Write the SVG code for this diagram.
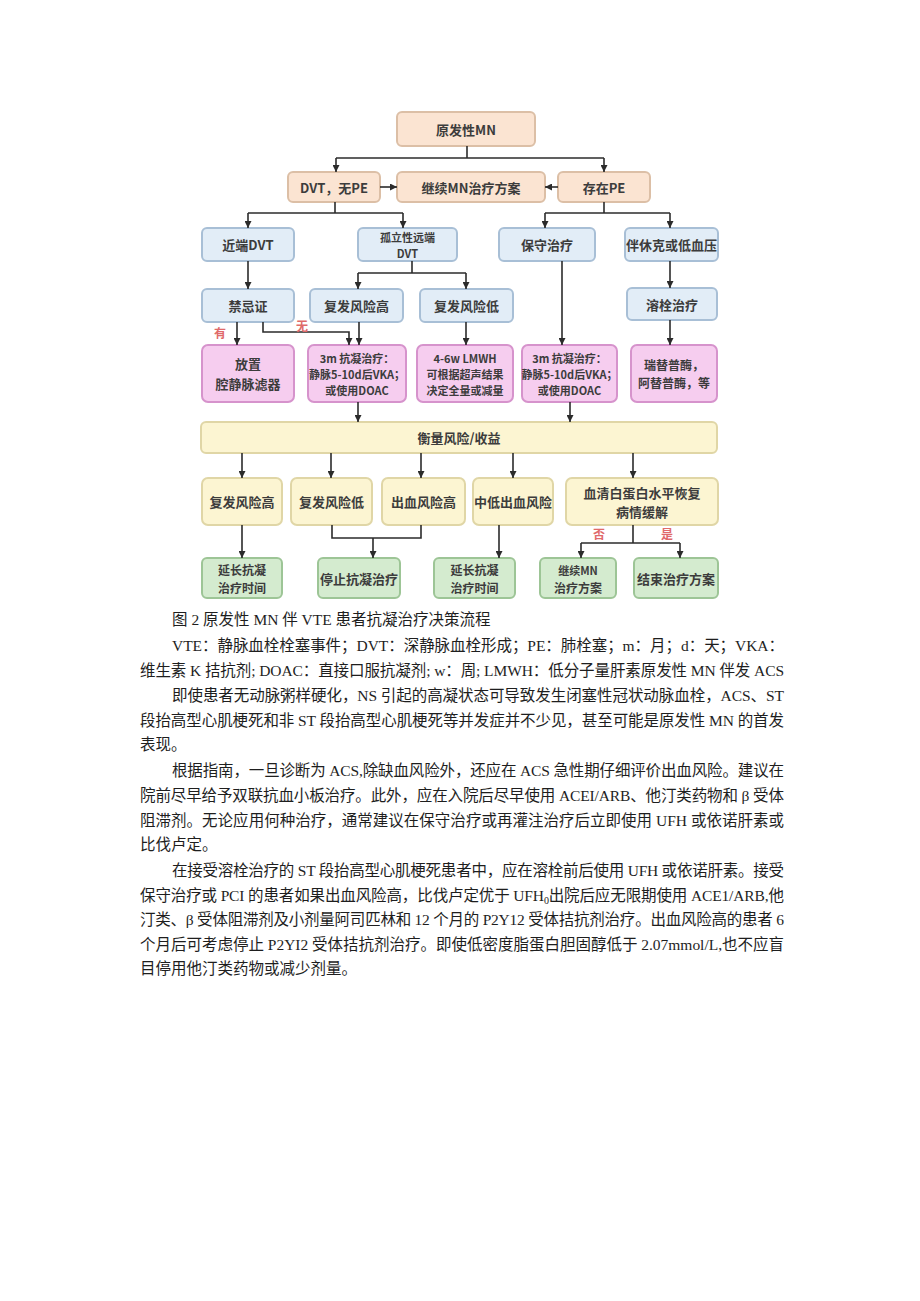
<svg xmlns="http://www.w3.org/2000/svg" width="920" height="1301" viewBox="0 0 920 1301">
<defs>
<marker id="arr" viewBox="0 0 8 8" refX="8" refY="4" markerWidth="7" markerHeight="7" markerUnits="userSpaceOnUse" orient="auto">
<path d="M0,0 L8,4 L0,8 z" fill="#2b2b2b"/>
</marker>
<style>
.peach{fill:#fbe4d2;stroke:#dcbfa6;stroke-width:2}
.blue{fill:#e2edf7;stroke:#a8bfd6;stroke-width:2}
.pink{fill:#f6cdef;stroke:#d693cc;stroke-width:2}
.yel{fill:#fcf5d2;stroke:#e0d6a6;stroke-width:2}
.grn{fill:#d4ebcf;stroke:#9dc596;stroke-width:2}
.t{font-family:"Noto Sans CJK SC","Liberation Sans",sans-serif;font-weight:700;fill:#3c3c3c;font-size:13px;text-anchor:middle;dominant-baseline:central}
.ts{font-size:11px}
.tm{font-size:12px}
.red{font-family:"Noto Sans CJK SC",sans-serif;font-size:12px;fill:#e06a6a;font-weight:700;text-anchor:middle;dominant-baseline:central}
.c path{fill:none;stroke:#2b2b2b;stroke-width:1.6}
.body{font-family:"Liberation Serif","Noto Sans CJK SC",serif;font-size:15.5px;fill:#1e1e1e}
</style>
</defs>
<rect width="920" height="1301" fill="#ffffff"/>

<g id="n-root"><rect class="peach" x="397" y="112" width="138" height="34" rx="5"/><text class="t" x="466" y="129" font-size="17">原发性MN</text></g>
<g id="n-dvt"><rect class="peach" x="288" y="172" width="92" height="30" rx="5"/><text class="t" x="334" y="187">DVT，无PE</text></g>
<g id="n-cont"><rect class="peach" x="397" y="172" width="148" height="30" rx="5"/><text class="t" x="471" y="187">继续MN治疗方案</text></g>
<g id="n-pe"><rect class="peach" x="558" y="172" width="92" height="30" rx="5"/><text class="t" x="604" y="187">存在PE</text></g>

<g id="n-prox"><rect class="blue" x="202" y="228" width="92" height="33" rx="5"/><text class="t" x="248" y="244.5">近端DVT</text></g>
<g id="n-dist"><rect class="blue" x="358" y="228" width="99" height="33" rx="5"/><text class="t ts" x="407.5" y="236.5">孤立性远端</text><text class="t ts" x="407.5" y="252.5">DVT</text></g>
<g id="n-cons"><rect class="blue" x="499" y="228" width="96" height="33" rx="5"/><text class="t" x="547" y="244.5">保守治疗</text></g>
<g id="n-shock"><rect class="blue" x="625" y="228" width="93" height="33" rx="5"/><text class="t" x="671.5" y="244.5" font-size="12.5">伴休克或低血压</text></g>

<g id="n-contra"><rect class="blue" x="202" y="289" width="92" height="33" rx="5"/><text class="t" x="248" y="305.5">禁忌证</text></g>
<g id="n-rh1"><rect class="blue" x="310" y="289" width="93" height="33" rx="5"/><text class="t" x="356.5" y="305.5">复发风险高</text></g>
<g id="n-rl1"><rect class="blue" x="420" y="289" width="93" height="33" rx="5"/><text class="t" x="466.5" y="305.5">复发风险低</text></g>
<g id="n-lys"><rect class="blue" x="627" y="288" width="90" height="32" rx="5"/><text class="t" x="672" y="304">溶栓治疗</text></g>

<g id="n-filter"><rect class="pink" x="202" y="345" width="92" height="57" rx="6"/><text class="t" x="248" y="363">放置</text><text class="t" x="248" y="383">腔静脉滤器</text></g>
<g id="n-ac1"><rect class="pink" x="308" y="345" width="98" height="57" rx="6"/><text class="t ts" x="357" y="357.5">3m 抗凝治疗：</text><text class="t ts" x="357" y="373.5">静脉5-10d后VKA；</text><text class="t ts" x="357" y="389.5">或使用DOAC</text></g>
<g id="n-lmwh"><rect class="pink" x="417" y="345" width="96" height="57" rx="6"/><text class="t ts" x="465" y="357.5">4-6w LMWH</text><text class="t ts" x="465" y="373.5">可根据超声结果</text><text class="t ts" x="465" y="389.5">决定全量或减量</text></g>
<g id="n-ac2"><rect class="pink" x="522" y="345" width="95" height="57" rx="6"/><text class="t ts" x="569.5" y="357.5">3m 抗凝治疗：</text><text class="t ts" x="569.5" y="373.5">静脉5-10d后VKA；</text><text class="t ts" x="569.5" y="389.5">或使用DOAC</text></g>
<g id="n-rete"><rect class="pink" x="631" y="345" width="86" height="57" rx="6"/><text class="t tm" x="674" y="364">瑞替普酶，</text><text class="t tm" x="674" y="382">阿替普酶，等</text></g>

<g id="n-weigh"><rect class="yel" x="201" y="422" width="516" height="31" rx="5"/><text class="t" x="459" y="437.5">衡量风险/收益</text></g>

<g id="n-rh2"><rect class="yel" x="202" y="478" width="80" height="47" rx="6"/><text class="t" x="242" y="501.5">复发风险高</text></g>
<g id="n-rl2"><rect class="yel" x="291" y="478" width="81" height="47" rx="6"/><text class="t" x="331.5" y="501.5">复发风险低</text></g>
<g id="n-bh"><rect class="yel" x="382" y="478" width="83" height="47" rx="6"/><text class="t" x="423.5" y="501.5">出血风险高</text></g>
<g id="n-bl"><rect class="yel" x="473" y="478" width="80" height="47" rx="6"/><text class="t" x="513" y="501.5">中低出血风险</text></g>
<g id="n-alb"><rect class="yel" x="566" y="478" width="152" height="47" rx="6"/><text class="t" x="642" y="492">血清白蛋白水平恢复</text><text class="t" x="642" y="511">病情缓解</text></g>

<g id="n-ext1"><rect class="grn" x="202" y="558" width="80" height="40" rx="5"/><text class="t tm" x="242" y="569.5">延长抗凝</text><text class="t tm" x="242" y="587">治疗时间</text></g>
<g id="n-stop"><rect class="grn" x="318" y="558" width="82" height="40" rx="5"/><text class="t" x="359" y="578">停止抗凝治疗</text></g>
<g id="n-ext2"><rect class="grn" x="434" y="558" width="81" height="40" rx="5"/><text class="t tm" x="474.5" y="569.5">延长抗凝</text><text class="t tm" x="474.5" y="587">治疗时间</text></g>
<g id="n-mn"><rect class="grn" x="540" y="558" width="76" height="40" rx="5"/><text class="t ts" x="578" y="569.5">继续MN</text><text class="t tm" x="578" y="587">治疗方案</text></g>
<g id="n-end"><rect class="grn" x="634" y="558" width="84" height="40" rx="5"/><text class="t" x="676" y="578">结束治疗方案</text></g>

<g id="connectors" class="c">
<path d="M467 146 V158"/><path d="M336 158 H604"/>
<path d="M336 158 V172" marker-end="url(#arr)"/><path d="M604 158 V172" marker-end="url(#arr)"/>
<path d="M380 187 H397" marker-end="url(#arr)"/><path d="M558 187 H545" marker-end="url(#arr)"/>
<path d="M335 202 V213"/><path d="M248 213 H403"/>
<path d="M248 213 V228" marker-end="url(#arr)"/><path d="M403 213 V228" marker-end="url(#arr)"/>
<path d="M604 202 V213"/><path d="M545 213 H670"/>
<path d="M545 213 V228" marker-end="url(#arr)"/><path d="M670 213 V228" marker-end="url(#arr)"/>
<path d="M248 261 V289" marker-end="url(#arr)"/>
<path d="M412 261 V273"/><path d="M358 273 H466"/>
<path d="M358 273 V289" marker-end="url(#arr)"/><path d="M466 273 V289" marker-end="url(#arr)"/>
<path d="M562 261 V345" marker-end="url(#arr)"/>
<path d="M670 261 V288" marker-end="url(#arr)"/><path d="M670 320 V345" marker-end="url(#arr)"/>
<path d="M237 322 V345" marker-end="url(#arr)"/>
<path d="M263 322 V332 H349 V345" marker-end="url(#arr)"/>
<path d="M359 322 V345" marker-end="url(#arr)"/>
<path d="M466 322 V345" marker-end="url(#arr)"/>
<path d="M358 402 V422" marker-end="url(#arr)"/><path d="M570 402 V422" marker-end="url(#arr)"/>
<path d="M242 453 V478" marker-end="url(#arr)"/><path d="M331 453 V478" marker-end="url(#arr)"/>
<path d="M421 453 V478" marker-end="url(#arr)"/><path d="M513 453 V478" marker-end="url(#arr)"/>
<path d="M633 453 V478" marker-end="url(#arr)"/>
<path d="M242 525 V558" marker-end="url(#arr)"/>
<path d="M332 525 V538 H421 V525"/><path d="M373 538 V558" marker-end="url(#arr)"/>
<path d="M499 525 V558" marker-end="url(#arr)"/>
<path d="M633 525 V543"/><path d="M581 543 H680"/>
<path d="M581 543 V558" marker-end="url(#arr)"/><path d="M680 543 V558" marker-end="url(#arr)"/>
</g>
<g id="labels">
<text class="red" x="220" y="332">有</text>
<text class="red" x="302" y="325">无</text>
<text class="red" x="599" y="533">否</text>
<text class="red" x="667" y="533">是</text>
</g>

<g id="body" class="body">
<text x="172" y="625">图 2 原发性 MN 伴 VTE 患者抗凝治疗决策流程</text>
<text x="172" y="651" textLength="612" lengthAdjust="spacing">VTE：静脉血栓栓塞事件；DVT：深静脉血栓形成；PE：肺栓塞；m：月；d：天；VKA：</text>
<text x="140" y="676" textLength="644" lengthAdjust="spacing">维生素 K 拮抗剂; DOAC：直接口服抗凝剂; w：周; LMWH：低分子量肝素原发性 MN 伴发 ACS</text>
<text x="172" y="701" textLength="612" lengthAdjust="spacing">即使患者无动脉粥样硬化，NS 引起的高凝状态可导致发生闭塞性冠状动脉血栓，ACS、ST</text>
<text x="140" y="726" textLength="644" lengthAdjust="spacing">段抬高型心肌梗死和非 ST 段抬高型心肌梗死等并发症并不少见，甚至可能是原发性 MN 的首发</text>
<text x="140" y="750">表现。</text>
<text x="172" y="776" textLength="612" lengthAdjust="spacing">根据指南，一旦诊断为 ACS,除缺血风险外，还应在 ACS 急性期仔细评价出血风险。建议在</text>
<text x="140" y="801" textLength="644" lengthAdjust="spacing">院前尽早给予双联抗血小板治疗。此外，应在入院后尽早使用 ACEI/ARB、他汀类药物和 β 受体</text>
<text x="140" y="826" textLength="644" lengthAdjust="spacing">阻滞剂。无论应用何种治疗，通常建议在保守治疗或再灌注治疗后立即使用 UFH 或依诺肝素或</text>
<text x="140" y="850">比伐卢定。</text>
<text x="172" y="876" textLength="612" lengthAdjust="spacing">在接受溶栓治疗的 ST 段抬高型心肌梗死患者中，应在溶栓前后使用 UFH 或依诺肝素。接受</text>
<text x="140" y="901" textLength="644" lengthAdjust="spacing">保守治疗或 PCI 的患者如果出血风险高，比伐卢定优于 UFH<tspan font-size="10" dy="3">0</tspan><tspan dy="-3">出院后应无限期使用 ACE1/ARB,他</tspan></text>
<text x="140" y="925" textLength="644" lengthAdjust="spacing">汀类、β 受体阻滞剂及小剂量阿司匹林和 12 个月的 P2Y12 受体拮抗剂治疗。出血风险高的患者 6</text>
<text x="140" y="950" textLength="644" lengthAdjust="spacing">个月后可考虑停止 P2YI2 受体拮抗剂治疗。即使低密度脂蛋白胆固醇低于 2.07mmol/L,也不应盲</text>
<text x="140" y="974">目停用他汀类药物或减少剂量。</text>
</g>
</svg>
